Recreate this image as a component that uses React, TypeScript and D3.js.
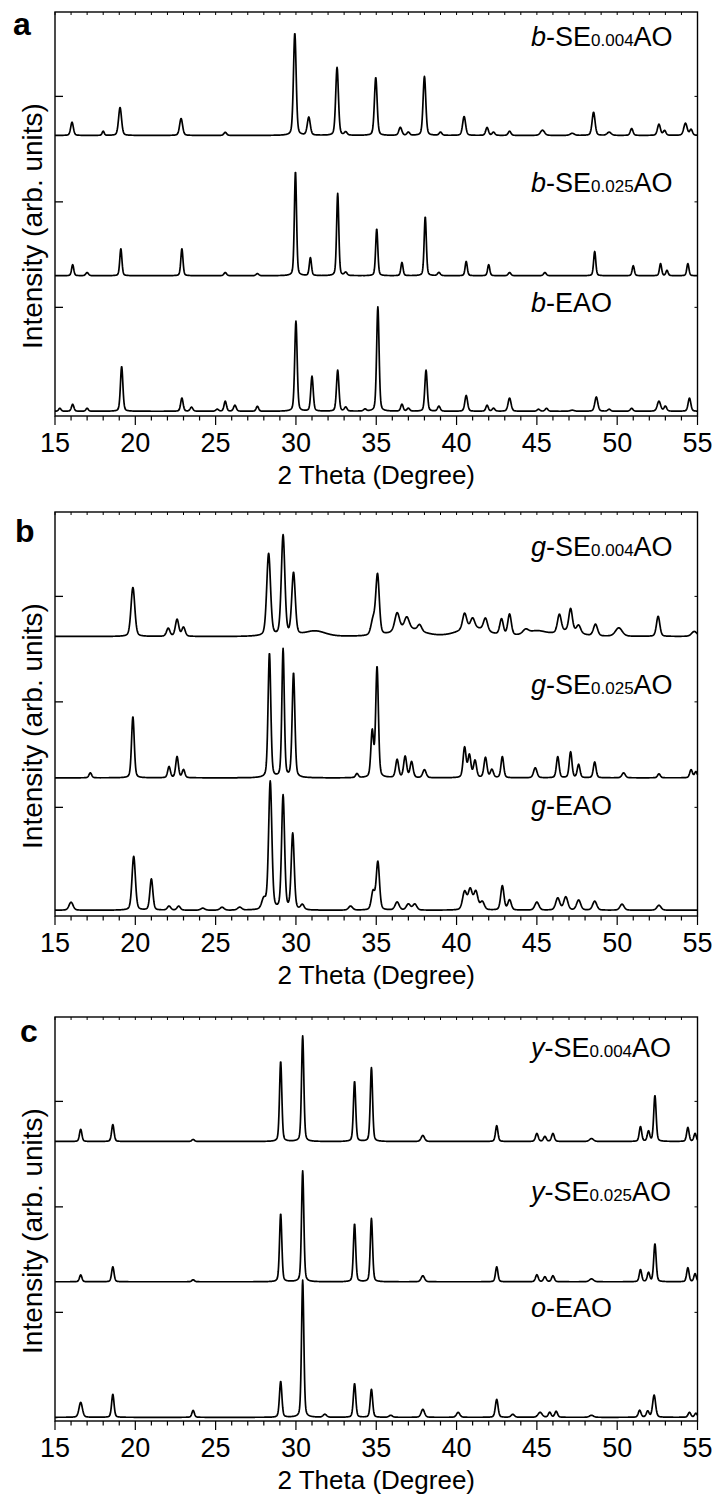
import React from "react";
import * as d3 from "d3";

// peak lists: [2theta (deg), height (counts), fwhm (deg)]
type Peak = [number, number, number];

const thetaTicks = [15, 20, 25, 30, 35, 40, 45, 50, 55];
const minorTicks = d3.range(15, 56, 1);
const intensityTicks = [1000, 2000, 3000];

const panelLetters = ["a", "b", "c"];

// sample names: [italic prefix, rest, subscript, suffix]
const namesA = [["b", "SE", "0.004", "AO"], ["b", "SE", "0.025", "AO"], ["b", "EAO", "", ""]];
const namesB = [["g", "SE", "0.004", "AO"], ["g", "SE", "0.025", "AO"], ["g", "EAO", "", ""]];
const namesC = [["y", "SE", "0.004", "AO"], ["y", "SE", "0.025", "AO"], ["o", "EAO", "", ""]];

// vertical offsets of the stacked patterns (counts)
const offsetsA = [2630, 1300, 15];
const offsetsB = [2620, 1280, 25];
const offsetsC = [2620, 1290, 5];

const bSE004: Peak[] = [
  [16.06, 125, 0.2], [18.0, 40, 0.15], [19.05, 265, 0.22], [22.85, 160, 0.22], [25.6, 30, 0.2],
  [29.93, 970, 0.2], [30.8, 170, 0.22], [32.56, 645, 0.2], [33.1, 30, 0.2], [34.97, 550, 0.2],
  [36.5, 75, 0.22], [37.0, 30, 0.2], [38.0, 560, 0.2], [39.0, 30, 0.2], [40.47, 180, 0.22],
  [41.9, 75, 0.2], [42.3, 30, 0.2], [43.3, 40, 0.2], [45.35, 50, 0.3], [47.2, 20, 0.3],
  [48.53, 220, 0.22], [49.5, 30, 0.3], [50.9, 65, 0.2], [52.6, 105, 0.22], [52.95, 45, 0.2],
  [54.25, 115, 0.25], [54.6, 55, 0.2],
];
const bSE025: Peak[] = [
  [16.1, 105, 0.16], [17.0, 30, 0.2], [19.1, 255, 0.16], [22.9, 255, 0.16], [25.6, 30, 0.2],
  [27.6, 20, 0.2], [29.97, 990, 0.16], [30.9, 170, 0.16], [32.6, 780, 0.16], [33.1, 30, 0.2],
  [35.03, 445, 0.16], [36.6, 125, 0.16], [38.05, 560, 0.16], [38.9, 30, 0.2], [40.6, 135, 0.16],
  [42.0, 105, 0.16], [43.3, 30, 0.2], [45.5, 30, 0.2], [48.6, 230, 0.16], [51.0, 95, 0.16],
  [52.7, 115, 0.16], [53.1, 50, 0.16], [54.4, 115, 0.16],
];
const bEAO: Peak[] = [
  [15.3, 28, 0.18], [16.1, 66, 0.18], [17.0, 28, 0.18], [19.15, 425, 0.18], [22.9, 125, 0.18],
  [23.5, 38, 0.2], [25.1, 19, 0.2], [25.6, 95, 0.18], [26.2, 57, 0.2], [27.6, 47, 0.18],
  [30.0, 855, 0.18], [31.0, 330, 0.18], [32.6, 390, 0.18], [33.1, 38, 0.2], [34.3, 19, 0.2],
  [35.1, 990, 0.18], [36.6, 66, 0.18], [37.0, 28, 0.2], [38.1, 390, 0.18], [38.9, 47, 0.2],
  [40.6, 150, 0.2], [41.9, 57, 0.18], [42.3, 28, 0.2], [43.3, 125, 0.22], [45.1, 19, 0.2],
  [45.6, 28, 0.2], [47.2, 10, 0.3], [48.7, 135, 0.22], [49.5, 19, 0.2], [50.9, 28, 0.2],
  [52.6, 95, 0.25], [53.0, 47, 0.2], [54.5, 125, 0.2],
];

const gSE004: Peak[] = [
  [19.85, 465, 0.28], [22.05, 76, 0.25], [22.6, 160, 0.25], [23.0, 85, 0.25], [28.3, 780, 0.28],
  [29.2, 950, 0.26], [29.85, 590, 0.26], [31.2, 50, 1.5], [34.8, 140, 0.3], [35.08, 570, 0.26],
  [36.3, 170, 0.35], [36.9, 110, 0.35], [37.0, 70, 2.0], [37.7, 60, 0.3], [40.5, 150, 0.3],
  [41.0, 80, 2.0], [41.0, 90, 0.3], [41.8, 120, 0.3], [42.8, 150, 0.26], [43.3, 200, 0.26],
  [44.3, 40, 0.4], [45.0, 50, 1.5], [46.4, 170, 0.28], [47.0, 50, 1.5], [47.1, 210, 0.26],
  [47.6, 70, 0.3], [48.65, 110, 0.3], [50.1, 80, 0.5], [52.55, 190, 0.25], [54.8, 47, 0.4],
];
const gSE025: Peak[] = [
  [17.2, 47, 0.2], [19.85, 580, 0.2], [22.1, 105, 0.2], [22.6, 200, 0.2], [23.0, 76, 0.2],
  [28.35, 1180, 0.2], [29.2, 1215, 0.18], [29.85, 990, 0.2], [33.8, 38, 0.2], [34.75, 430, 0.2],
  [35.05, 1045, 0.2], [36.3, 170, 0.22], [36.8, 200, 0.22], [37.2, 150, 0.22], [38.0, 76, 0.25],
  [40.5, 285, 0.22], [40.8, 210, 0.22], [41.15, 160, 0.22], [41.8, 190, 0.22], [42.2, 76, 0.22],
  [42.85, 200, 0.2], [44.9, 95, 0.25], [46.3, 200, 0.2], [47.1, 245, 0.2], [47.6, 125, 0.2],
  [48.6, 150, 0.2], [50.4, 47, 0.25], [52.6, 38, 0.2], [54.6, 76, 0.2], [54.9, 57, 0.2],
];
const gEAO: Peak[] = [
  [16.0, 76, 0.3], [19.9, 510, 0.25], [21.0, 295, 0.22], [22.1, 38, 0.25], [22.7, 38, 0.25],
  [24.2, 19, 0.3], [25.4, 28, 0.3], [26.5, 28, 0.3], [28.0, 95, 0.3], [28.4, 1215, 0.24],
  [29.2, 1080, 0.22], [29.8, 720, 0.22], [30.4, 47, 0.25], [33.4, 38, 0.3], [34.8, 170, 0.25],
  [35.1, 455, 0.24], [36.3, 76, 0.3], [37.0, 57, 0.3], [37.4, 57, 0.3], [40.5, 170, 0.3],
  [40.85, 190, 0.3], [41.2, 170, 0.3], [41.6, 76, 0.3], [42.85, 230, 0.24], [43.3, 95, 0.25],
  [45.0, 76, 0.3], [46.3, 114, 0.3], [46.8, 124, 0.3], [47.6, 95, 0.3], [48.6, 85, 0.3],
  [50.3, 57, 0.3], [52.6, 47, 0.3],
];

const ySE004: Peak[] = [
  [16.6, 115, 0.18], [18.6, 160, 0.18], [23.6, 19, 0.2], [29.05, 760, 0.17], [30.42, 1000, 0.17],
  [33.65, 570, 0.17], [34.7, 700, 0.17], [37.9, 57, 0.25], [42.5, 150, 0.18], [45.0, 76, 0.2],
  [45.5, 47, 0.2], [46.0, 76, 0.2], [48.4, 28, 0.3], [51.45, 140, 0.18], [51.95, 95, 0.18],
  [52.35, 435, 0.18], [54.4, 133, 0.18], [54.85, 76, 0.18],
];
const ySE025: Peak[] = [
  [16.6, 66, 0.18], [18.6, 142, 0.18], [23.6, 19, 0.2], [29.05, 645, 0.17], [30.42, 1050, 0.17],
  [33.65, 550, 0.17], [34.7, 600, 0.17], [37.9, 57, 0.25], [42.5, 142, 0.18], [45.0, 66, 0.2],
  [45.5, 47, 0.2], [46.0, 57, 0.2], [48.4, 28, 0.3], [51.45, 114, 0.18], [51.95, 85, 0.18],
  [52.35, 360, 0.18], [54.4, 133, 0.18], [54.85, 76, 0.18],
];
const oEAO: Peak[] = [
  [16.6, 142, 0.25], [18.6, 218, 0.18], [23.6, 66, 0.18], [29.05, 340, 0.18], [30.42, 1300, 0.17],
  [31.8, 28, 0.25], [33.65, 320, 0.18], [34.7, 265, 0.18], [35.9, 19, 0.25], [37.9, 76, 0.25],
  [40.1, 47, 0.25], [42.5, 170, 0.2], [43.5, 28, 0.25], [45.2, 47, 0.3], [45.8, 47, 0.2],
  [46.2, 57, 0.2], [48.4, 19, 0.3], [51.4, 66, 0.2], [51.9, 57, 0.2], [52.3, 210, 0.22],
  [54.5, 47, 0.2], [54.9, 38, 0.2],
];

const patternsA = [bSE004, bSE025, bEAO];
const patternsB = [gSE004, gSE025, gEAO];
const patternsC = [ySE004, ySE025, oEAO];

const panels = [
  { letter: panelLetters[0], names: namesA, offsets: offsetsA, patterns: patternsA },
  { letter: panelLetters[1], names: namesB, offsets: offsetsB, patterns: patternsB },
  { letter: panelLetters[2], names: namesC, offsets: offsetsC, patterns: patternsC },
];

// layout
const W = 715, H = 1499;
const left = 55, right = 697.5, plotH = 404;
const tops = [12, 512, 1017];
const labelY = [[34, 180, 300], [44, 182, 303], [40, 184, 300]];
const letterPos = [[13, 35], [15, 542], [20, 1042]];
const font = "'Liberation Sans', Arial, Helvetica, sans-serif";

const grid = d3.range(15, 55.0001, 0.02);

function profile(peaks: Peak[], t: number) {
  let s = 0;
  for (const [p, h, w] of peaks) {
    const u = (t - p) / (w / 2);
    const u2 = u * u;
    if (u2 > 400) continue;
    s += h * (0.3 / (1 + u2) + 0.7 * Math.exp(-Math.LN2 * u2));
  }
  return s;
}

const Panel = ({ idx }: { idx: number }) => {
  const p = panels[idx];
  const top = tops[idx];
  const bottom = top + plotH;
  const x = d3.scaleLinear().domain([15, 55]).range([left, right]);
  const y = d3.scaleLinear().domain([-30, 3800]).range([bottom, top]);

  return (
    <g>
      {p.patterns.map((peaks, k) => {
        const pts: [number, number][] = grid.map((t) => [x(t), y(p.offsets[k] + profile(peaks, t))]);
        const d = d3.line()(pts);
        return <path key={k} d={d || ""} fill="none" stroke="#000" strokeWidth={1.7} strokeLinejoin="round" />;
      })}
      <rect x={left} y={top} width={right - left} height={plotH} fill="none" stroke="#000" strokeWidth={1.4} />
      {minorTicks.map((t) => {
        const major = thetaTicks.includes(t);
        return (
          <g key={t}>
            <line x1={x(t)} x2={x(t)} y1={bottom} y2={bottom + (major ? 9 : 4.5)} stroke="#000" strokeWidth={1.2} />
            <line x1={x(t)} x2={x(t)} y1={top} y2={top + 3} stroke="#000" strokeWidth={1} />
          </g>
        );
      })}
      {intensityTicks.map((v) => (
        <g key={v}>
          <line x1={left} x2={left + 8} y1={y(v)} y2={y(v)} stroke="#000" strokeWidth={1.3} />
          <line x1={right} x2={right - 3} y1={y(v)} y2={y(v)} stroke="#000" strokeWidth={1} />
        </g>
      ))}
      {thetaTicks.map((t) => (
        <text key={t} x={x(t)} y={bottom + 36} textAnchor="middle" fontSize={27} fontFamily={font}>
          {t}
        </text>
      ))}
      <text x={(left + right) / 2} y={bottom + 68} textAnchor="middle" fontSize={26} fontFamily={font}>
        2 Theta (Degree)
      </text>
      <text
        transform={`translate(42,${top + plotH / 2 + 12}) rotate(-90)`}
        textAnchor="middle"
        fontSize={28}
        fontFamily={font}
      >
        Intensity (arb. units)
      </text>
      <text x={letterPos[idx][0]} y={letterPos[idx][1]} fontSize={32} fontWeight="bold" fontFamily={font}>
        {p.letter}
      </text>
      {p.names.map((n, k) => (
        <text key={k} x={531} y={top + labelY[idx][k]} fontSize={27} fontFamily={font}>
          <tspan fontStyle="italic">{n[0]}</tspan>
          <tspan>-{n[1]}</tspan>
          {n[2] && <tspan fontSize={17}>{n[2]}</tspan>}
          {n[3] && <tspan>{n[3]}</tspan>}
        </text>
      ))}
    </g>
  );
};

export default function App() {
  return (
    <svg
      width={W}
      height={H}
      viewBox={`0 0 ${W} ${H}`}
      style={{ position: "absolute", left: 0, top: 0, background: "#fff" }}
    >
      <rect width={W} height={H} fill="#fff" />
      {panels.map((_, i) => (
        <Panel key={i} idx={i} />
      ))}
    </svg>
  );
}
